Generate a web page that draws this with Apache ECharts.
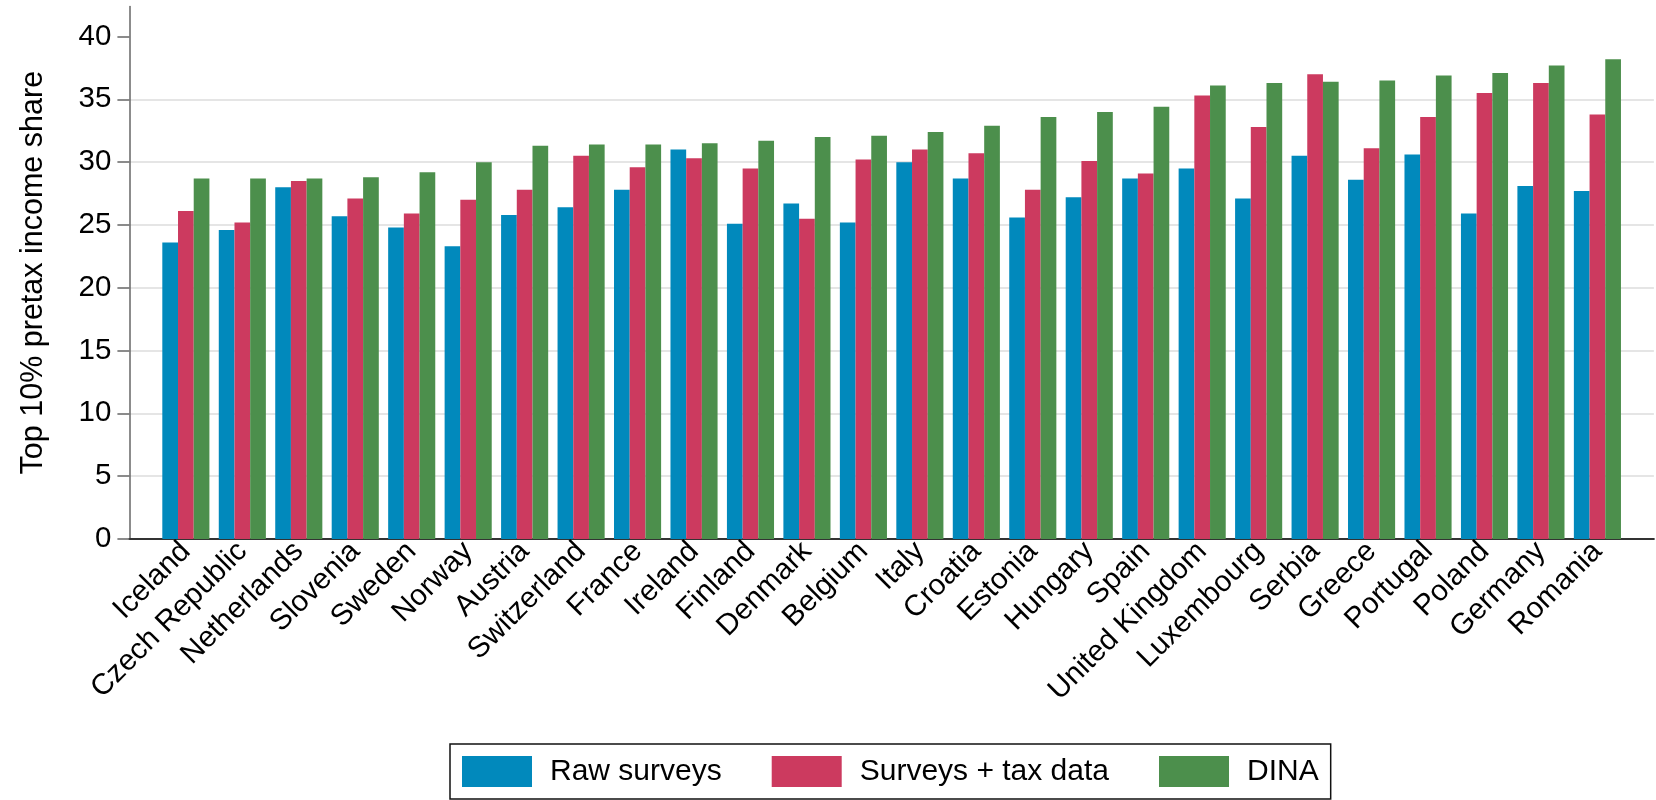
<!DOCTYPE html>
<html>
<head>
<meta charset="utf-8">
<script src="https://cdn.jsdelivr.net/npm/echarts@6/dist/echarts.min.js"></script>
<style>
html,body{margin:0;padding:0;background:#fff;}
#chart{width:1656px;height:800px;}
</style>
</head>
<body>
<div id="chart"></div>
<script>
const countries = ["Iceland","Czech Republic","Netherlands","Slovenia","Sweden","Norway","Austria","Switzerland","France","Ireland","Finland","Denmark","Belgium","Italy","Croatia","Estonia","Hungary","Spain","United Kingdom","Luxembourg","Serbia","Greece","Portugal","Poland","Germany","Romania"];
const rawSurveys = [23.6,24.6,28.0,25.7,24.8,23.3,25.8,26.4,27.8,31.0,25.1,26.7,25.2,30.0,28.7,25.6,27.2,28.7,29.5,27.1,30.5,28.6,30.6,25.9,28.1,27.7];
const surveysTax = [26.1,25.2,28.5,27.1,25.9,27.0,27.8,30.5,29.6,30.3,29.5,25.5,30.2,31.0,30.7,27.8,30.1,29.1,35.3,32.8,37.0,31.1,33.6,35.5,36.3,33.8];
const dina = [28.7,28.7,28.7,28.8,29.2,30.0,31.3,31.4,31.4,31.5,31.7,32.0,32.1,32.4,32.9,33.6,34.0,34.4,36.1,36.3,36.4,36.5,36.9,37.1,37.7,38.2];
const yTicks = [0,5,10,15,20,25,30,35,40];
const seriesNames = ["Raw surveys","Surveys + tax data","DINA"];
const colors = ["#0189bc","#cc3a5f","#4c8f4c"];

const FONT = "Liberation Sans, Arial, Helvetica, sans-serif";
const chart = echarts.init(document.getElementById('chart'));
const mk = (arr) => arr.map((v,i)=>[i,v]);
chart.setOption({
  animation:false,
  textStyle:{fontFamily:FONT},
  grid:{left:129.4,right:0,top:6.4,bottom:261.1,containLabel:false},
  legend:{
    left:450, top:744, orient:'horizontal',
    padding:[12,12,12,12],
    itemWidth:70, itemHeight:31, itemGap:50,
    borderColor:'#111', borderWidth:1.5, borderRadius:0,
    icon:'rect',
    textStyle:{fontSize:30,color:'#000',fontFamily:FONT,padding:[0,0,0,13]},
    data:seriesNames
  },
  xAxis:{
    type:'value', min:-1, max:26, interval:1,
    axisLine:{onZero:false,lineStyle:{color:'#333',width:2}},
    axisTick:{show:false},
    splitLine:{show:false},
    axisLabel:{
      rotate:45, fontSize:29.5, color:'#000', margin:8, fontFamily:FONT,
      formatter:(v)=> countries[v] !== undefined ? countries[v] : ''
    }
  },
  yAxis:{
    type:'value', min:0, max:42.4, interval:5,
    name:'Top 10% pretax income share', nameLocation:'middle', nameGap:80,
    nameTextStyle:{fontSize:30.5,color:'#000',fontFamily:FONT},
    axisLine:{show:true,onZero:false,lineStyle:{color:'#666',width:1.5}},
    axisTick:{show:true,length:12,customValues:yTicks,lineStyle:{color:'#666',width:1.5}},
    axisLabel:{fontSize:29.5,color:'#000',margin:18,customValues:yTicks,fontFamily:FONT},
    splitLine:{show:true,showMinLine:false,showMaxLine:false,lineStyle:{color:'#dcdcdc',width:1.5}}
  },
  series:[
    {name:seriesNames[0],type:'bar',data:mk(rawSurveys),barWidth:15.7,barGap:'0%',itemStyle:{color:colors[0]}},
    {name:seriesNames[1],type:'bar',data:mk(surveysTax),barWidth:15.7,barGap:'0%',itemStyle:{color:colors[1]}},
    {name:seriesNames[2],type:'bar',data:mk(dina),barWidth:15.7,barGap:'0%',itemStyle:{color:colors[2]}}
  ]
});
</script>
</body>
</html>
